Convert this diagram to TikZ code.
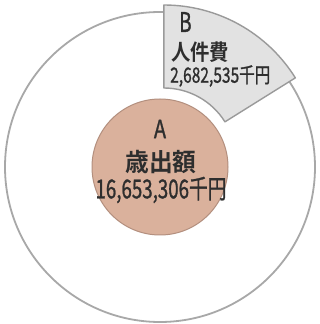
\documentclass[tikz,border=0pt]{standalone}
\usepackage{fontspec}
\usetikzlibrary{calc}
\newfontfamily\jp[FakeBold=1.2]{Noto Sans CJK JP}
\newfontfamily\jpb{Noto Sans CJK JP Bold}
\definecolor{ringline}{HTML}{A8A8A8}
\definecolor{innerfill}{HTML}{DAB19C}
\definecolor{innerline}{HTML}{B38F7E}
\definecolor{wedgefill}{HTML}{E2E2E2}
\definecolor{wedgeline}{HTML}{9A9A9A}
\definecolor{txt}{HTML}{2E2E2E}
\tikzset{
  lbl/.style={inner sep=0pt, text=txt},
}
\begin{document}
\begin{tikzpicture}[x=1pt,y=1pt]
\useasboundingbox (0,0) rectangle (320,324);
\fill[white] (0,0) rectangle (320,324);
\coordinate (c) at (160,157);
% outer ring
\draw[ringline, line width=1.8pt, fill=white] (c) circle[radius=155];
% exploded wedge B
\coordinate (w) at ($(c)+(3.9,7)$);
\draw[wedgeline, line width=1.4pt, fill=wedgefill, line join=round]
  ($(w)+(90:72)$) -- ($(w)+(90:155)$) arc[start angle=90, end angle=32, radius=155]
  -- ($(w)+(32:72)$) arc[start angle=32, end angle=90, radius=72] -- cycle;
% inner circle A
\draw[innerline, line width=1pt, fill=innerfill] (c) circle[radius=68];
% texts
\node[lbl] (a) at (160,195) {\jp\fontsize{25}{25}\selectfont\scalebox{0.8}[1]{A}};
\node[lbl] (an) at (161,162) {\jpb\fontsize{25}{25}\selectfont\scalebox{0.95}[1]{歳出額}};
\node[lbl] (av) at (161,134) {\jp\fontsize{26}{26}\selectfont\scalebox{0.72}[1]{16,653,306千円}};
\node[lbl, anchor=west] (b) at (179,302) {\jp\fontsize{27}{27}\selectfont\scalebox{0.7}[1]{B}};
\node[lbl, anchor=west] (bn) at (171,272) {\jpb\fontsize{22}{22}\selectfont\scalebox{0.88}[1]{人件費}};
\node[lbl, anchor=west] (bv) at (170,248) {\jp\fontsize{21}{21}\selectfont\scalebox{0.74}[1]{2,682,535千円}};
\end{tikzpicture}
\end{document}
